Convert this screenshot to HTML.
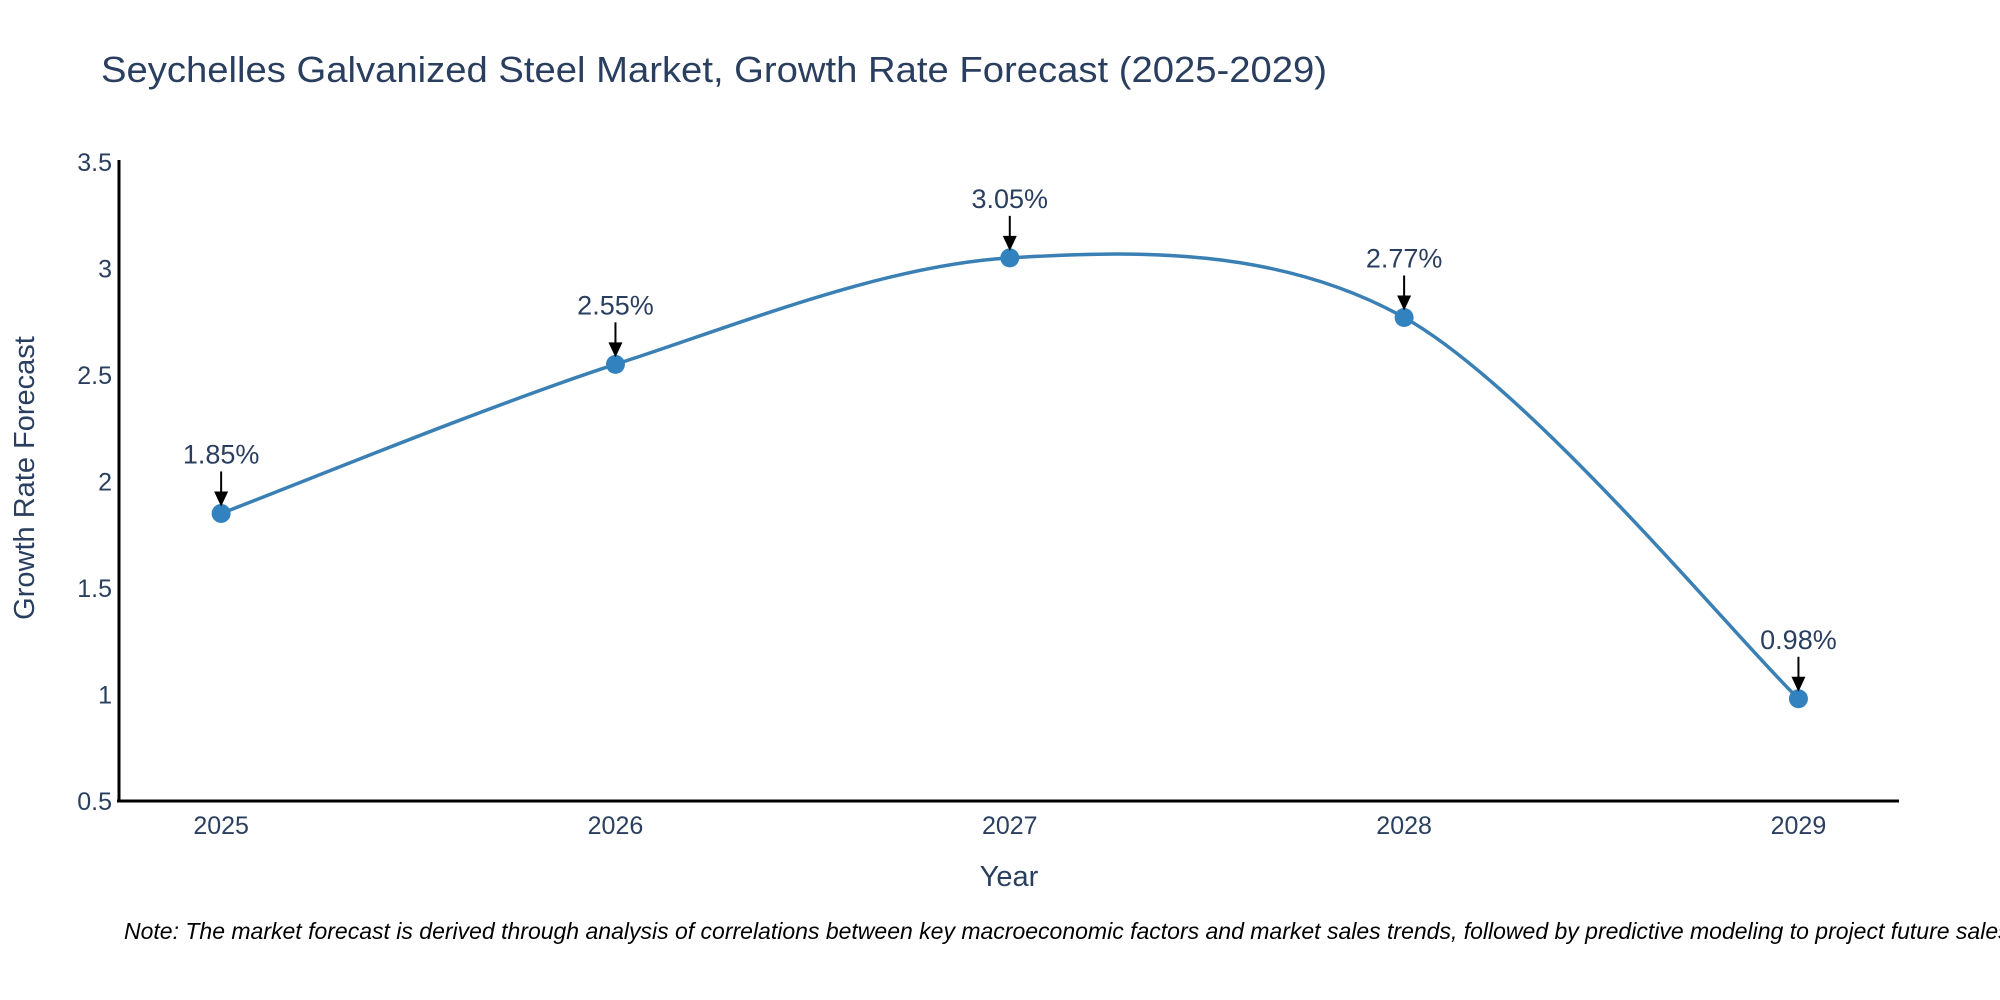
<!DOCTYPE html>
<html><head><meta charset="utf-8"><style>
html,body{margin:0;padding:0;background:#fff;}
svg{display:block;font-family:"Liberation Sans",sans-serif;}
</style></head><body>
<svg id="chart" width="2000" height="1000" viewBox="0 0 2000 1000">
<text x="101" y="82" font-size="36" fill="#2a3f5f" textLength="1226" lengthAdjust="spacingAndGlyphs">Seychelles Galvanized Steel Market, Growth Rate Forecast (2025-2029)</text>
<g id="yticks"></g>
<g id="xticks"></g>
<line x1="119" y1="160" x2="119" y2="802" stroke="#000" stroke-width="3"/>
<line x1="117" y1="801" x2="1899" y2="801" stroke="#000" stroke-width="3"/>
<text transform="translate(34,478) rotate(-90)" text-anchor="middle" font-size="29" fill="#2a3f5f">Growth Rate Forecast</text>
<text x="1009" y="886" text-anchor="middle" font-size="29" fill="#2a3f5f">Year</text>
<g id="series"></g>
<g id="annots"></g>
<text x="124" y="939" font-size="23" font-style="italic" fill="#000">Note: The market forecast is derived through analysis of correlations between key macroeconomic factors and market sales trends, followed by predictive modeling to project future sales.</text>
</svg>
<script>
const years = [2025, 2026, 2027, 2028, 2029];
const growth = [1.85, 2.55, 3.05, 2.77, 0.98];
const yTicks = [0.5, 1, 1.5, 2, 2.5, 3, 3.5];
const yTickLabels = ["0.5", "1", "1.5", "2", "2.5", "3", "3.5"];

const NS = "http://www.w3.org/2000/svg";
const X0 = 2024.741, X1 = 2029.255, PX0 = 119, PX1 = 1899;
const Y0 = 0.5, Y1 = 3.5, PY0 = 801, PY1 = 162;
function xs(v){ return PX0 + (v - X0) / (X1 - X0) * (PX1 - PX0); }
function ys(v){ return PY0 + (v - Y0) / (Y1 - Y0) * (PY1 - PY0); }
function mk(tag, attrs, parent){ const e = document.createElementNS(NS, tag); for (const k in attrs) e.setAttribute(k, attrs[k]); parent.appendChild(e); return e; }

const yg = document.getElementById('yticks');
yTicks.forEach((t, i) => {
  const el = mk('text', {x: 112, y: ys(t) + 9, 'text-anchor': 'end', 'font-size': 25, fill: '#2a3f5f'}, yg);
  
  
  el.textContent = yTickLabels[i];
});
const xg = document.getElementById('xticks');
years.forEach(y => {
  const el = mk('text', {x: xs(y), y: 834, 'text-anchor': 'middle', 'font-size': 25, fill: '#2a3f5f'}, xg);
  
  
  el.textContent = String(y);
});

const pts = years.map((y, i) => [xs(y), ys(growth[i])]);
let d = 'M' + pts[0][0] + ',' + pts[0][1];
const tension = 0.16;
for (let i = 0; i < pts.length - 1; i++) {
  const p0 = pts[Math.max(0, i - 1)], p1 = pts[i], p2 = pts[i + 1], p3 = pts[Math.min(pts.length - 1, i + 2)];
  const c1 = [p1[0] + (p2[0] - p0[0]) * tension, p1[1] + (p2[1] - p0[1]) * tension];
  const c2 = [p2[0] - (p3[0] - p1[0]) * tension, p2[1] - (p3[1] - p1[1]) * tension];
  d += ' C' + c1.join(',') + ' ' + c2.join(',') + ' ' + p2.join(',');
}
const sg = document.getElementById('series');
const line = mk('path', {d: d, fill: 'none', stroke: '#3a80b5', 'stroke-width': 3.5}, sg);


pts.forEach(p => {
  const c = mk('circle', {cx: p[0], cy: p[1], r: 9.5, fill: '#3282bf'}, sg);
  
  
});

const ag = document.getElementById('annots');
pts.forEach((p, i) => {
  const ln = mk('line', {x1: p[0], y1: p[1] - 42, x2: p[0], y2: p[1] - 20, stroke: '#000', 'stroke-width': 2}, ag);
  
  
  const hd = mk('path', {d: 'M' + (p[0] - 7) + ',' + (p[1] - 22) + ' L' + (p[0] + 7) + ',' + (p[1] - 22) + ' L' + p[0] + ',' + (p[1] - 7) + ' Z', fill: '#000'}, ag);
  
  
  const t = mk('text', {x: p[0], y: p[1] - 50, 'text-anchor': 'middle', 'font-size': 27, fill: '#2a3f5f'}, ag);
  
  
  t.textContent = growth[i].toFixed(2) + '%';
});
</script>
</body></html>
